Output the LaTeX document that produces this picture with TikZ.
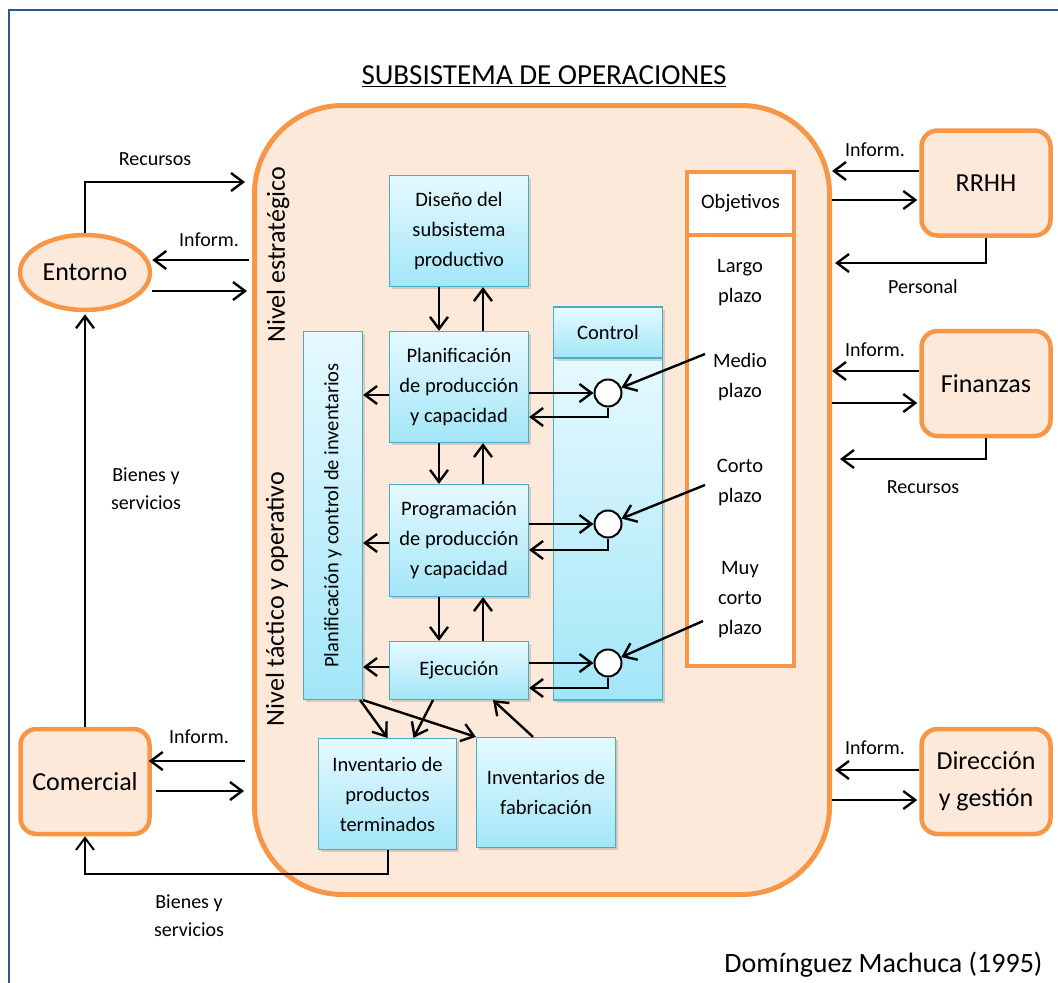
\documentclass[tikz,border=0pt]{standalone}
\usepackage{fontspec}
\setmainfont{Carlito}
\usetikzlibrary{arrows.meta,shapes.geometric,shadows}
\definecolor{opsorange}{HTML}{F79646}
\definecolor{opsfill}{HTML}{FDE9D9}
\definecolor{boxline}{HTML}{4BACC6}
\definecolor{boxtop}{HTML}{E6F9FF}
\definecolor{boxbot}{HTML}{A2E6F8}
\definecolor{framecol}{HTML}{2F5496}

\begin{document}
\begin{tikzpicture}[x=1pt,y=-1pt,>={Straight Barb[length=12pt,width=18pt]}]
\path[use as bounding box] (0,0) rectangle (1058,983);
\tikzstyle{unit}=[draw=opsorange, line width=4.5pt, fill=opsfill, rounded corners=16pt, align=center, font=\fontsize{26}{37}\selectfont, minimum width=129pt, minimum height=105pt, inner sep=0pt]
\tikzstyle{stage}=[draw=boxline, line width=1.2pt, top color=boxtop, bottom color=boxbot, drop shadow={shadow xshift=2pt, shadow yshift=-2.5pt, opacity=0.3}, align=center, font=\fontsize{20.5}{30}\selectfont, minimum width=139pt, inner sep=0pt]
\tikzstyle{goal}=[draw=opsorange, line width=4pt, fill=white, minimum width=107pt, inner sep=0pt]
\tikzstyle{lbl}=[align=center, font=\fontsize{20}{28}\selectfont]
\tikzstyle{term}=[align=center, font=\fontsize{20.5}{30}\selectfont]
\tikzstyle{level}=[rotate=90, font=\fontsize{26}{30}\selectfont]
\tikzstyle{dot}=[circle, draw, line width=2pt, fill=white, minimum size=27pt, inner sep=0pt]
\tikzstyle{flow}=[->, line width=2.4pt]

\draw[framecol, line width=2pt] (9,983) -- (9,10) -- (1058,10);

\node[font=\fontsize{29}{34}\selectfont] (title) at (544,76) {\underline{SUBSISTEMA DE OPERACIONES}};
\node[draw=opsorange, line width=5pt, fill=opsfill, rounded corners=88pt, minimum width=575pt, minimum height=789pt, inner sep=0pt] (ops) at (542,500) {};

\node[ellipse, draw=opsorange, line width=4.5pt, fill=opsfill, minimum width=130pt, minimum height=75pt, inner sep=0pt, font=\fontsize{26}{30}\selectfont] (entorno) at (85,272.5) {Entorno};
\node[unit] (comercial) at (85,781.5) {Comercial};
\node[unit] (rrhh) at (986,183) {RRHH};
\node[unit] (finanzas) at (986,383.5) {Finanzas};
\node[unit] (direccion) at (986,781.5) {Dirección\\y gestión};

\node[level] (estrategico) at (278,255) {Nivel estratégico};
\node[level] (tactico) at (277,599) {Nivel táctico y operativo};

\node[stage, minimum height=111pt] (diseno) at (459,231) {Diseño del\\subsistema\\productivo};
\node[stage, minimum height=111pt] (planif) at (459,387) {Planificación\\de producción\\y capacidad};
\node[stage, minimum height=112pt] (prog) at (459,540.5) {Programación\\de producción\\y capacidad};
\node[stage, minimum height=58pt] (ejec) at (459,670.5) {Ejecución};
\node[stage, minimum width=59pt, minimum height=368pt] (invbox) at (333,515.5) {};
\node[rotate=90, font=\fontsize{20.5}{25}\selectfont] (invlbl) at (invbox.center) {Planificación y control de inventarios};
\node[stage, minimum width=138pt, minimum height=111pt] (invpt) at (387.5,794) {Inventario de\\productos\\terminados};
\node[stage, minimum height=110pt] (invfab) at (546,792.5) {Inventarios de\\fabricación};

\node[stage, minimum width=109pt, minimum height=342pt] (ctrlbody) at (608,529) {};
\node[stage, minimum width=109pt, minimum height=51pt] (ctrl) at (608,332.5) {Control};
\node[dot] (c1) at (608,393) {};
\node[dot] (c2) at (608,524) {};
\node[dot] (c3) at (608,663) {};

\node[goal, minimum height=431pt] (objbody) at (740.5,450.5) {};
\node[goal, minimum height=63pt, font=\fontsize{20.5}{30}\selectfont] (objhead) at (740.5,203.5) {Objetivos};
\node[term] (largo) at (740,283) {Largo\\plazo};
\node[term] (medio) at (740,377) {Medio\\plazo};
\node[term] (corto) at (740,482) {Corto\\plazo};
\node[term] (muycorto) at (740,600) {Muy\\corto\\plazo};
\coordinate (gmedio) at (705,354);
\coordinate (gcorto) at (705,485);
\coordinate (gmuy) at (703,621);

\node[lbl] (l1) at (155,159) {Recursos};
\node[lbl] (l2) at (209,240) {Inform.};
\node[lbl] (l3) at (146,489) {Bienes y\\servicios};
\node[lbl] (l4) at (199,737) {Inform.};
\node[lbl] (l5) at (189,916) {Bienes y\\servicios};
\node[lbl] (l6) at (875,150) {Inform.};
\node[lbl] (l7) at (923,287) {Personal};
\node[lbl] (l8) at (875,350) {Inform.};
\node[lbl] (l9) at (923,487) {Recursos};
\node[lbl] (l10) at (875,748) {Inform.};
\node[font=\fontsize{28}{34}\selectfont, anchor=east] (cite) at (1046,965) {Domínguez Machuca (1995)};

\draw[flow, shorten >=7pt] (entorno.north) |- (ops.west |- 0,182);
\draw[flow, shorten <=3pt] (ops.west |- 0,260) -- (entorno.east |- 0,260);
\draw[flow, shorten >=5pt] (entorno.east |- 0,291) -- (ops.west |- 0,291);
\draw[flow, shorten >=2pt] (comercial.north) -- (entorno.south);
\draw[flow, shorten <=7pt, shorten >=-3pt] (ops.west |- 0,761) -- (comercial.east |- 0,761);
\draw[flow, shorten <=4pt, shorten >=8pt] (comercial.east |- 0,791) -- (ops.west |- 0,791);
\draw[flow, line width=2pt] (invpt.south) -- ++(0,24) -| (comercial.south);

\draw[flow] (rrhh.west |- 0,171) -- (ops.east |- 0,171);
\draw[flow, shorten >=2pt] (ops.east |- 0,200) -- (rrhh.west |- 0,200);
\draw[flow, shorten >=3pt] (rrhh.south) |- (ops.east |- 0,263);
\draw[flow] (finanzas.west |- 0,371) -- (ops.east |- 0,371);
\draw[flow, shorten >=2pt] (ops.east |- 0,403) -- (finanzas.west |- 0,403);
\draw[flow, shorten >=8pt] (finanzas.south) |- (ops.east |- 0,459);
\draw[flow, shorten >=3pt] (direccion.west |- 0,770) -- (ops.east |- 0,770);
\draw[flow, shorten >=2pt] (ops.east |- 0,800) -- (direccion.west |- 0,800);

\draw[flow] ([xshift=-20pt]diseno.south) -- ([xshift=-20pt]planif.north);
\draw[flow] ([xshift=24pt]planif.north) -- ([xshift=24pt]diseno.south);
\draw[flow] ([xshift=-20pt]planif.south) -- ([xshift=-20pt]prog.north);
\draw[flow] ([xshift=24pt]prog.north) -- ([xshift=24pt]planif.south);
\draw[flow] ([xshift=-20pt]prog.south) -- ([xshift=-20pt]ejec.north);
\draw[flow] ([xshift=24pt]ejec.north) -- ([xshift=24pt]prog.south);

\draw[flow] (planif.west |- 0,395) -- (invbox.east |- 0,395);
\draw[flow] (prog.west |- 0,543) -- (invbox.east |- 0,543);
\draw[flow] (ejec.west |- 0,667) -- (invbox.east |- 0,667);

\draw[flow] (planif.east |- c1) -- (c1);
\draw[flow] (c1.south) |- (planif.east |- 0,417);
\draw[flow] (prog.east |- c2) -- (c2);
\draw[flow] (c2.south) |- (prog.east |- 0,550);
\draw[flow] (ejec.east |- c3) -- (c3);
\draw[flow] (c3.south) |- (ejec.east |- 0,688);

\draw[flow] (gmedio) -- (c1);
\draw[flow] (gcorto) -- (c2);
\draw[flow] (gmuy) -- (c3);

\draw[flow] ([xshift=-3pt]invbox.south east) -- (invpt.north);
\draw[flow] (invbox.south east) -- (invfab.north west);
\draw[flow] ([xshift=-26pt]ejec.south) -- ([xshift=26pt]invpt.north);
\draw[flow] ([xshift=-13pt]invfab.north) -- ([xshift=34pt]ejec.south);
\end{tikzpicture}
\end{document}
